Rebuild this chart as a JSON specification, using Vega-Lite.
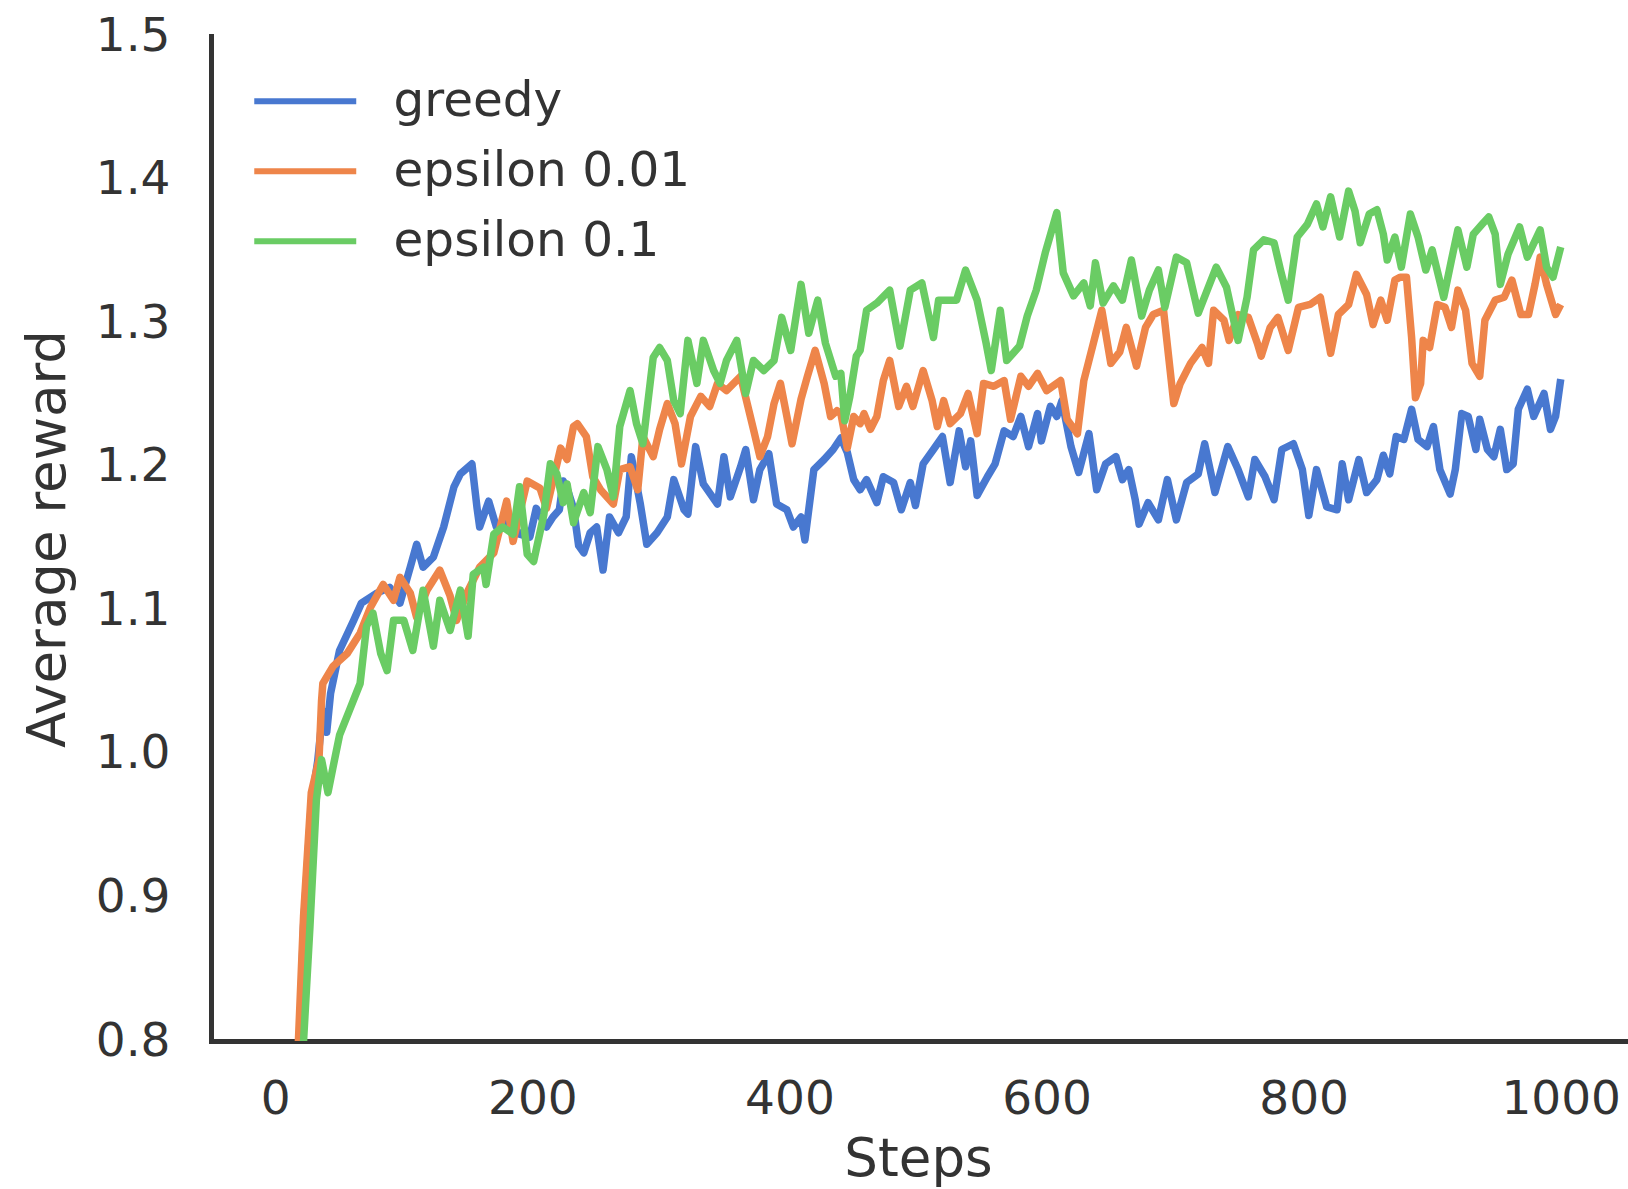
{
  "$schema": "https://vega.github.io/schema/vega-lite/v6.json",
  "width": 1414,
  "height": 1005,
  "autosize": {"type": "none"},
  "padding": {"left": 211, "top": 36, "right": 3, "bottom": 148},
  "background": "white",
  "config": {
    "view": {"stroke": null},
    "font": "DejaVu Sans",
    "axis": {
      "grid": false,
      "ticks": false,
      "tickSize": 0,
      "domainColor": "#333333",
      "domainWidth": 5,
      "domainCap": "square",
      "labelFont": "DejaVu Sans",
      "labelFontSize": 47,
      "labelColor": "#333333",
      "titleFont": "DejaVu Sans",
      "titleFontSize": 53,
      "titleFontWeight": "normal",
      "titleColor": "#333333"
    }
  },
  "datasets": {
    "rewards": [
      {"agent": "greedy", "step": 17, "reward": 0.75},
      {"agent": "greedy", "step": 22, "reward": 0.88},
      {"agent": "greedy", "step": 28, "reward": 0.965},
      {"agent": "greedy", "step": 33, "reward": 0.995},
      {"agent": "greedy", "step": 37, "reward": 1.03},
      {"agent": "greedy", "step": 40, "reward": 1.015},
      {"agent": "greedy", "step": 43, "reward": 1.042},
      {"agent": "greedy", "step": 50, "reward": 1.072},
      {"agent": "greedy", "step": 61, "reward": 1.093},
      {"agent": "greedy", "step": 67, "reward": 1.105},
      {"agent": "greedy", "step": 79, "reward": 1.112},
      {"agent": "greedy", "step": 89, "reward": 1.116},
      {"agent": "greedy", "step": 97, "reward": 1.105},
      {"agent": "greedy", "step": 105, "reward": 1.13},
      {"agent": "greedy", "step": 110, "reward": 1.146},
      {"agent": "greedy", "step": 115, "reward": 1.13},
      {"agent": "greedy", "step": 123, "reward": 1.137},
      {"agent": "greedy", "step": 131, "reward": 1.158},
      {"agent": "greedy", "step": 139, "reward": 1.186},
      {"agent": "greedy", "step": 144, "reward": 1.195},
      {"agent": "greedy", "step": 153, "reward": 1.202},
      {"agent": "greedy", "step": 157, "reward": 1.171},
      {"agent": "greedy", "step": 159, "reward": 1.158},
      {"agent": "greedy", "step": 166, "reward": 1.176},
      {"agent": "greedy", "step": 172, "reward": 1.158},
      {"agent": "greedy", "step": 183, "reward": 1.162},
      {"agent": "greedy", "step": 190, "reward": 1.153},
      {"agent": "greedy", "step": 198, "reward": 1.151},
      {"agent": "greedy", "step": 203, "reward": 1.171},
      {"agent": "greedy", "step": 211, "reward": 1.158},
      {"agent": "greedy", "step": 216, "reward": 1.165},
      {"agent": "greedy", "step": 221, "reward": 1.17},
      {"agent": "greedy", "step": 224, "reward": 1.19},
      {"agent": "greedy", "step": 227, "reward": 1.185},
      {"agent": "greedy", "step": 232, "reward": 1.171},
      {"agent": "greedy", "step": 236, "reward": 1.145},
      {"agent": "greedy", "step": 240, "reward": 1.14},
      {"agent": "greedy", "step": 245, "reward": 1.154},
      {"agent": "greedy", "step": 250, "reward": 1.158},
      {"agent": "greedy", "step": 255, "reward": 1.128},
      {"agent": "greedy", "step": 260, "reward": 1.165},
      {"agent": "greedy", "step": 267, "reward": 1.154},
      {"agent": "greedy", "step": 273, "reward": 1.165},
      {"agent": "greedy", "step": 277, "reward": 1.207},
      {"agent": "greedy", "step": 284, "reward": 1.174},
      {"agent": "greedy", "step": 289, "reward": 1.146},
      {"agent": "greedy", "step": 297, "reward": 1.154},
      {"agent": "greedy", "step": 305, "reward": 1.165},
      {"agent": "greedy", "step": 310, "reward": 1.191},
      {"agent": "greedy", "step": 318, "reward": 1.17},
      {"agent": "greedy", "step": 321, "reward": 1.167},
      {"agent": "greedy", "step": 327, "reward": 1.214},
      {"agent": "greedy", "step": 333, "reward": 1.188},
      {"agent": "greedy", "step": 344, "reward": 1.174},
      {"agent": "greedy", "step": 349, "reward": 1.207},
      {"agent": "greedy", "step": 354, "reward": 1.179},
      {"agent": "greedy", "step": 362, "reward": 1.2},
      {"agent": "greedy", "step": 366, "reward": 1.212},
      {"agent": "greedy", "step": 372, "reward": 1.177},
      {"agent": "greedy", "step": 377, "reward": 1.198},
      {"agent": "greedy", "step": 384, "reward": 1.209},
      {"agent": "greedy", "step": 390, "reward": 1.174},
      {"agent": "greedy", "step": 398, "reward": 1.17},
      {"agent": "greedy", "step": 403, "reward": 1.158},
      {"agent": "greedy", "step": 409, "reward": 1.165},
      {"agent": "greedy", "step": 412, "reward": 1.149},
      {"agent": "greedy", "step": 419, "reward": 1.198},
      {"agent": "greedy", "step": 427, "reward": 1.205},
      {"agent": "greedy", "step": 434, "reward": 1.212},
      {"agent": "greedy", "step": 440, "reward": 1.22},
      {"agent": "greedy", "step": 445, "reward": 1.21},
      {"agent": "greedy", "step": 450, "reward": 1.191},
      {"agent": "greedy", "step": 455, "reward": 1.184},
      {"agent": "greedy", "step": 460, "reward": 1.191},
      {"agent": "greedy", "step": 468, "reward": 1.175},
      {"agent": "greedy", "step": 473, "reward": 1.193},
      {"agent": "greedy", "step": 481, "reward": 1.189},
      {"agent": "greedy", "step": 487, "reward": 1.17},
      {"agent": "greedy", "step": 494, "reward": 1.189},
      {"agent": "greedy", "step": 498, "reward": 1.173},
      {"agent": "greedy", "step": 504, "reward": 1.202},
      {"agent": "greedy", "step": 512, "reward": 1.212},
      {"agent": "greedy", "step": 519, "reward": 1.221},
      {"agent": "greedy", "step": 525, "reward": 1.189},
      {"agent": "greedy", "step": 532, "reward": 1.225},
      {"agent": "greedy", "step": 537, "reward": 1.2},
      {"agent": "greedy", "step": 541, "reward": 1.218},
      {"agent": "greedy", "step": 546, "reward": 1.18},
      {"agent": "greedy", "step": 554, "reward": 1.193},
      {"agent": "greedy", "step": 560, "reward": 1.202},
      {"agent": "greedy", "step": 567, "reward": 1.225},
      {"agent": "greedy", "step": 574, "reward": 1.221},
      {"agent": "greedy", "step": 580, "reward": 1.235},
      {"agent": "greedy", "step": 586, "reward": 1.214},
      {"agent": "greedy", "step": 593, "reward": 1.237},
      {"agent": "greedy", "step": 596, "reward": 1.218},
      {"agent": "greedy", "step": 603, "reward": 1.242},
      {"agent": "greedy", "step": 608, "reward": 1.235},
      {"agent": "greedy", "step": 612, "reward": 1.246},
      {"agent": "greedy", "step": 619, "reward": 1.214},
      {"agent": "greedy", "step": 625, "reward": 1.196},
      {"agent": "greedy", "step": 633, "reward": 1.223},
      {"agent": "greedy", "step": 639, "reward": 1.184},
      {"agent": "greedy", "step": 646, "reward": 1.202},
      {"agent": "greedy", "step": 654, "reward": 1.207},
      {"agent": "greedy", "step": 659, "reward": 1.191},
      {"agent": "greedy", "step": 664, "reward": 1.198},
      {"agent": "greedy", "step": 669, "reward": 1.177},
      {"agent": "greedy", "step": 672, "reward": 1.16},
      {"agent": "greedy", "step": 679, "reward": 1.175},
      {"agent": "greedy", "step": 687, "reward": 1.163},
      {"agent": "greedy", "step": 694, "reward": 1.191},
      {"agent": "greedy", "step": 701, "reward": 1.163},
      {"agent": "greedy", "step": 709, "reward": 1.189},
      {"agent": "greedy", "step": 718, "reward": 1.195},
      {"agent": "greedy", "step": 723, "reward": 1.216},
      {"agent": "greedy", "step": 731, "reward": 1.182},
      {"agent": "greedy", "step": 741, "reward": 1.214},
      {"agent": "greedy", "step": 749, "reward": 1.198},
      {"agent": "greedy", "step": 757, "reward": 1.179},
      {"agent": "greedy", "step": 762, "reward": 1.205},
      {"agent": "greedy", "step": 770, "reward": 1.193},
      {"agent": "greedy", "step": 777, "reward": 1.177},
      {"agent": "greedy", "step": 783, "reward": 1.212},
      {"agent": "greedy", "step": 792, "reward": 1.216},
      {"agent": "greedy", "step": 799, "reward": 1.198},
      {"agent": "greedy", "step": 804, "reward": 1.166},
      {"agent": "greedy", "step": 810, "reward": 1.198},
      {"agent": "greedy", "step": 818, "reward": 1.172},
      {"agent": "greedy", "step": 826, "reward": 1.17},
      {"agent": "greedy", "step": 830, "reward": 1.202},
      {"agent": "greedy", "step": 835, "reward": 1.177},
      {"agent": "greedy", "step": 843, "reward": 1.205},
      {"agent": "greedy", "step": 849, "reward": 1.182},
      {"agent": "greedy", "step": 857, "reward": 1.191},
      {"agent": "greedy", "step": 862, "reward": 1.208},
      {"agent": "greedy", "step": 867, "reward": 1.195},
      {"agent": "greedy", "step": 872, "reward": 1.221},
      {"agent": "greedy", "step": 878, "reward": 1.219},
      {"agent": "greedy", "step": 884, "reward": 1.24},
      {"agent": "greedy", "step": 889, "reward": 1.219},
      {"agent": "greedy", "step": 896, "reward": 1.214},
      {"agent": "greedy", "step": 901, "reward": 1.228},
      {"agent": "greedy", "step": 906, "reward": 1.198},
      {"agent": "greedy", "step": 914, "reward": 1.181},
      {"agent": "greedy", "step": 918, "reward": 1.198},
      {"agent": "greedy", "step": 923, "reward": 1.237},
      {"agent": "greedy", "step": 928, "reward": 1.235},
      {"agent": "greedy", "step": 934, "reward": 1.212},
      {"agent": "greedy", "step": 937, "reward": 1.233},
      {"agent": "greedy", "step": 943, "reward": 1.212},
      {"agent": "greedy", "step": 948, "reward": 1.207},
      {"agent": "greedy", "step": 953, "reward": 1.226},
      {"agent": "greedy", "step": 958, "reward": 1.198},
      {"agent": "greedy", "step": 963, "reward": 1.202},
      {"agent": "greedy", "step": 967, "reward": 1.24},
      {"agent": "greedy", "step": 974, "reward": 1.254},
      {"agent": "greedy", "step": 979, "reward": 1.235},
      {"agent": "greedy", "step": 987, "reward": 1.251},
      {"agent": "greedy", "step": 992, "reward": 1.226},
      {"agent": "greedy", "step": 996, "reward": 1.235},
      {"agent": "greedy", "step": 1000, "reward": 1.261},

      {"agent": "epsilon 0.01", "step": 16, "reward": 0.75},
      {"agent": "epsilon 0.01", "step": 18, "reward": 0.8},
      {"agent": "epsilon 0.01", "step": 22, "reward": 0.887},
      {"agent": "epsilon 0.01", "step": 28, "reward": 0.973},
      {"agent": "epsilon 0.01", "step": 34, "reward": 0.996},
      {"agent": "epsilon 0.01", "step": 36, "reward": 1.037},
      {"agent": "epsilon 0.01", "step": 37, "reward": 1.049},
      {"agent": "epsilon 0.01", "step": 45, "reward": 1.061},
      {"agent": "epsilon 0.01", "step": 56, "reward": 1.07},
      {"agent": "epsilon 0.01", "step": 66, "reward": 1.084},
      {"agent": "epsilon 0.01", "step": 74, "reward": 1.102},
      {"agent": "epsilon 0.01", "step": 84, "reward": 1.118},
      {"agent": "epsilon 0.01", "step": 92, "reward": 1.107},
      {"agent": "epsilon 0.01", "step": 97, "reward": 1.123},
      {"agent": "epsilon 0.01", "step": 105, "reward": 1.112},
      {"agent": "epsilon 0.01", "step": 110, "reward": 1.095},
      {"agent": "epsilon 0.01", "step": 118, "reward": 1.114},
      {"agent": "epsilon 0.01", "step": 128, "reward": 1.128},
      {"agent": "epsilon 0.01", "step": 136, "reward": 1.11},
      {"agent": "epsilon 0.01", "step": 141, "reward": 1.093},
      {"agent": "epsilon 0.01", "step": 149, "reward": 1.112},
      {"agent": "epsilon 0.01", "step": 159, "reward": 1.13},
      {"agent": "epsilon 0.01", "step": 170, "reward": 1.14},
      {"agent": "epsilon 0.01", "step": 180, "reward": 1.176},
      {"agent": "epsilon 0.01", "step": 185, "reward": 1.148},
      {"agent": "epsilon 0.01", "step": 196, "reward": 1.19},
      {"agent": "epsilon 0.01", "step": 206, "reward": 1.185},
      {"agent": "epsilon 0.01", "step": 211, "reward": 1.171},
      {"agent": "epsilon 0.01", "step": 222, "reward": 1.213},
      {"agent": "epsilon 0.01", "step": 227, "reward": 1.205},
      {"agent": "epsilon 0.01", "step": 232, "reward": 1.228},
      {"agent": "epsilon 0.01", "step": 235, "reward": 1.23},
      {"agent": "epsilon 0.01", "step": 242, "reward": 1.221},
      {"agent": "epsilon 0.01", "step": 247, "reward": 1.193},
      {"agent": "epsilon 0.01", "step": 253, "reward": 1.184},
      {"agent": "epsilon 0.01", "step": 263, "reward": 1.174},
      {"agent": "epsilon 0.01", "step": 268, "reward": 1.198},
      {"agent": "epsilon 0.01", "step": 276, "reward": 1.2},
      {"agent": "epsilon 0.01", "step": 282, "reward": 1.184},
      {"agent": "epsilon 0.01", "step": 286, "reward": 1.221},
      {"agent": "epsilon 0.01", "step": 294, "reward": 1.207},
      {"agent": "epsilon 0.01", "step": 299, "reward": 1.226},
      {"agent": "epsilon 0.01", "step": 305, "reward": 1.244},
      {"agent": "epsilon 0.01", "step": 311, "reward": 1.23},
      {"agent": "epsilon 0.01", "step": 316, "reward": 1.202},
      {"agent": "epsilon 0.01", "step": 323, "reward": 1.235},
      {"agent": "epsilon 0.01", "step": 331, "reward": 1.249},
      {"agent": "epsilon 0.01", "step": 338, "reward": 1.242},
      {"agent": "epsilon 0.01", "step": 344, "reward": 1.258},
      {"agent": "epsilon 0.01", "step": 351, "reward": 1.253},
      {"agent": "epsilon 0.01", "step": 362, "reward": 1.263},
      {"agent": "epsilon 0.01", "step": 372, "reward": 1.226},
      {"agent": "epsilon 0.01", "step": 377, "reward": 1.207},
      {"agent": "epsilon 0.01", "step": 383, "reward": 1.221},
      {"agent": "epsilon 0.01", "step": 388, "reward": 1.244},
      {"agent": "epsilon 0.01", "step": 393, "reward": 1.258},
      {"agent": "epsilon 0.01", "step": 398, "reward": 1.235},
      {"agent": "epsilon 0.01", "step": 402, "reward": 1.216},
      {"agent": "epsilon 0.01", "step": 409, "reward": 1.247},
      {"agent": "epsilon 0.01", "step": 414, "reward": 1.263},
      {"agent": "epsilon 0.01", "step": 420, "reward": 1.281},
      {"agent": "epsilon 0.01", "step": 427, "reward": 1.258},
      {"agent": "epsilon 0.01", "step": 432, "reward": 1.235},
      {"agent": "epsilon 0.01", "step": 437, "reward": 1.239},
      {"agent": "epsilon 0.01", "step": 440, "reward": 1.237},
      {"agent": "epsilon 0.01", "step": 445, "reward": 1.213},
      {"agent": "epsilon 0.01", "step": 450, "reward": 1.235},
      {"agent": "epsilon 0.01", "step": 455, "reward": 1.23},
      {"agent": "epsilon 0.01", "step": 458, "reward": 1.237},
      {"agent": "epsilon 0.01", "step": 463, "reward": 1.226},
      {"agent": "epsilon 0.01", "step": 468, "reward": 1.235},
      {"agent": "epsilon 0.01", "step": 473, "reward": 1.26},
      {"agent": "epsilon 0.01", "step": 478, "reward": 1.274},
      {"agent": "epsilon 0.01", "step": 485, "reward": 1.242},
      {"agent": "epsilon 0.01", "step": 491, "reward": 1.256},
      {"agent": "epsilon 0.01", "step": 496, "reward": 1.242},
      {"agent": "epsilon 0.01", "step": 504, "reward": 1.267},
      {"agent": "epsilon 0.01", "step": 511, "reward": 1.246},
      {"agent": "epsilon 0.01", "step": 515, "reward": 1.228},
      {"agent": "epsilon 0.01", "step": 520, "reward": 1.246},
      {"agent": "epsilon 0.01", "step": 525, "reward": 1.23},
      {"agent": "epsilon 0.01", "step": 533, "reward": 1.237},
      {"agent": "epsilon 0.01", "step": 539, "reward": 1.251},
      {"agent": "epsilon 0.01", "step": 546, "reward": 1.223},
      {"agent": "epsilon 0.01", "step": 551, "reward": 1.258},
      {"agent": "epsilon 0.01", "step": 559, "reward": 1.256},
      {"agent": "epsilon 0.01", "step": 567, "reward": 1.26},
      {"agent": "epsilon 0.01", "step": 572, "reward": 1.233},
      {"agent": "epsilon 0.01", "step": 580, "reward": 1.263},
      {"agent": "epsilon 0.01", "step": 586, "reward": 1.256},
      {"agent": "epsilon 0.01", "step": 593, "reward": 1.265},
      {"agent": "epsilon 0.01", "step": 600, "reward": 1.253},
      {"agent": "epsilon 0.01", "step": 611, "reward": 1.26},
      {"agent": "epsilon 0.01", "step": 616, "reward": 1.233},
      {"agent": "epsilon 0.01", "step": 624, "reward": 1.223},
      {"agent": "epsilon 0.01", "step": 629, "reward": 1.26},
      {"agent": "epsilon 0.01", "step": 637, "reward": 1.288},
      {"agent": "epsilon 0.01", "step": 643, "reward": 1.309},
      {"agent": "epsilon 0.01", "step": 650, "reward": 1.272},
      {"agent": "epsilon 0.01", "step": 657, "reward": 1.28},
      {"agent": "epsilon 0.01", "step": 662, "reward": 1.297},
      {"agent": "epsilon 0.01", "step": 670, "reward": 1.27},
      {"agent": "epsilon 0.01", "step": 677, "reward": 1.297},
      {"agent": "epsilon 0.01", "step": 683, "reward": 1.306},
      {"agent": "epsilon 0.01", "step": 691, "reward": 1.309},
      {"agent": "epsilon 0.01", "step": 699, "reward": 1.244},
      {"agent": "epsilon 0.01", "step": 704, "reward": 1.258},
      {"agent": "epsilon 0.01", "step": 712, "reward": 1.272},
      {"agent": "epsilon 0.01", "step": 721, "reward": 1.283},
      {"agent": "epsilon 0.01", "step": 726, "reward": 1.272},
      {"agent": "epsilon 0.01", "step": 730, "reward": 1.309},
      {"agent": "epsilon 0.01", "step": 738, "reward": 1.302},
      {"agent": "epsilon 0.01", "step": 742, "reward": 1.288},
      {"agent": "epsilon 0.01", "step": 749, "reward": 1.306},
      {"agent": "epsilon 0.01", "step": 757, "reward": 1.304},
      {"agent": "epsilon 0.01", "step": 764, "reward": 1.286},
      {"agent": "epsilon 0.01", "step": 767, "reward": 1.277},
      {"agent": "epsilon 0.01", "step": 774, "reward": 1.297},
      {"agent": "epsilon 0.01", "step": 780, "reward": 1.304},
      {"agent": "epsilon 0.01", "step": 788, "reward": 1.281},
      {"agent": "epsilon 0.01", "step": 796, "reward": 1.311},
      {"agent": "epsilon 0.01", "step": 805, "reward": 1.313},
      {"agent": "epsilon 0.01", "step": 813, "reward": 1.318},
      {"agent": "epsilon 0.01", "step": 821, "reward": 1.279},
      {"agent": "epsilon 0.01", "step": 827, "reward": 1.306},
      {"agent": "epsilon 0.01", "step": 835, "reward": 1.313},
      {"agent": "epsilon 0.01", "step": 841, "reward": 1.334},
      {"agent": "epsilon 0.01", "step": 849, "reward": 1.32},
      {"agent": "epsilon 0.01", "step": 854, "reward": 1.299},
      {"agent": "epsilon 0.01", "step": 860, "reward": 1.316},
      {"agent": "epsilon 0.01", "step": 865, "reward": 1.302},
      {"agent": "epsilon 0.01", "step": 871, "reward": 1.33},
      {"agent": "epsilon 0.01", "step": 875, "reward": 1.332},
      {"agent": "epsilon 0.01", "step": 880, "reward": 1.332},
      {"agent": "epsilon 0.01", "step": 884, "reward": 1.29},
      {"agent": "epsilon 0.01", "step": 887, "reward": 1.248},
      {"agent": "epsilon 0.01", "step": 891, "reward": 1.258},
      {"agent": "epsilon 0.01", "step": 893, "reward": 1.288},
      {"agent": "epsilon 0.01", "step": 898, "reward": 1.283},
      {"agent": "epsilon 0.01", "step": 904, "reward": 1.313},
      {"agent": "epsilon 0.01", "step": 910, "reward": 1.311},
      {"agent": "epsilon 0.01", "step": 915, "reward": 1.297},
      {"agent": "epsilon 0.01", "step": 920, "reward": 1.323},
      {"agent": "epsilon 0.01", "step": 926, "reward": 1.309},
      {"agent": "epsilon 0.01", "step": 931, "reward": 1.272},
      {"agent": "epsilon 0.01", "step": 937, "reward": 1.263},
      {"agent": "epsilon 0.01", "step": 941, "reward": 1.302},
      {"agent": "epsilon 0.01", "step": 949, "reward": 1.316},
      {"agent": "epsilon 0.01", "step": 956, "reward": 1.318},
      {"agent": "epsilon 0.01", "step": 962, "reward": 1.33},
      {"agent": "epsilon 0.01", "step": 969, "reward": 1.306},
      {"agent": "epsilon 0.01", "step": 975, "reward": 1.306},
      {"agent": "epsilon 0.01", "step": 980, "reward": 1.327},
      {"agent": "epsilon 0.01", "step": 984, "reward": 1.346},
      {"agent": "epsilon 0.01", "step": 989, "reward": 1.327},
      {"agent": "epsilon 0.01", "step": 996, "reward": 1.306},
      {"agent": "epsilon 0.01", "step": 1000, "reward": 1.313},

      {"agent": "epsilon 0.1", "step": 20, "reward": 0.75},
      {"agent": "epsilon 0.1", "step": 22, "reward": 0.8},
      {"agent": "epsilon 0.1", "step": 27, "reward": 0.88},
      {"agent": "epsilon 0.1", "step": 32, "reward": 0.968},
      {"agent": "epsilon 0.1", "step": 36, "reward": 0.996},
      {"agent": "epsilon 0.1", "step": 41, "reward": 0.973},
      {"agent": "epsilon 0.1", "step": 45, "reward": 0.991},
      {"agent": "epsilon 0.1", "step": 50, "reward": 1.013},
      {"agent": "epsilon 0.1", "step": 58, "reward": 1.031},
      {"agent": "epsilon 0.1", "step": 66, "reward": 1.049},
      {"agent": "epsilon 0.1", "step": 71, "reward": 1.089},
      {"agent": "epsilon 0.1", "step": 76, "reward": 1.098},
      {"agent": "epsilon 0.1", "step": 82, "reward": 1.07},
      {"agent": "epsilon 0.1", "step": 87, "reward": 1.058},
      {"agent": "epsilon 0.1", "step": 92, "reward": 1.093},
      {"agent": "epsilon 0.1", "step": 100, "reward": 1.093},
      {"agent": "epsilon 0.1", "step": 107, "reward": 1.072},
      {"agent": "epsilon 0.1", "step": 115, "reward": 1.114},
      {"agent": "epsilon 0.1", "step": 123, "reward": 1.075},
      {"agent": "epsilon 0.1", "step": 128, "reward": 1.107},
      {"agent": "epsilon 0.1", "step": 136, "reward": 1.086},
      {"agent": "epsilon 0.1", "step": 144, "reward": 1.114},
      {"agent": "epsilon 0.1", "step": 150, "reward": 1.082},
      {"agent": "epsilon 0.1", "step": 154, "reward": 1.125},
      {"agent": "epsilon 0.1", "step": 162, "reward": 1.13},
      {"agent": "epsilon 0.1", "step": 164, "reward": 1.118},
      {"agent": "epsilon 0.1", "step": 170, "reward": 1.153},
      {"agent": "epsilon 0.1", "step": 177, "reward": 1.158},
      {"agent": "epsilon 0.1", "step": 185, "reward": 1.153},
      {"agent": "epsilon 0.1", "step": 190, "reward": 1.186},
      {"agent": "epsilon 0.1", "step": 196, "reward": 1.139},
      {"agent": "epsilon 0.1", "step": 201, "reward": 1.134},
      {"agent": "epsilon 0.1", "step": 209, "reward": 1.167},
      {"agent": "epsilon 0.1", "step": 214, "reward": 1.202},
      {"agent": "epsilon 0.1", "step": 219, "reward": 1.195},
      {"agent": "epsilon 0.1", "step": 224, "reward": 1.175},
      {"agent": "epsilon 0.1", "step": 227, "reward": 1.188},
      {"agent": "epsilon 0.1", "step": 232, "reward": 1.161},
      {"agent": "epsilon 0.1", "step": 240, "reward": 1.182},
      {"agent": "epsilon 0.1", "step": 245, "reward": 1.168},
      {"agent": "epsilon 0.1", "step": 251, "reward": 1.214},
      {"agent": "epsilon 0.1", "step": 258, "reward": 1.198},
      {"agent": "epsilon 0.1", "step": 263, "reward": 1.179},
      {"agent": "epsilon 0.1", "step": 268, "reward": 1.228},
      {"agent": "epsilon 0.1", "step": 276, "reward": 1.253},
      {"agent": "epsilon 0.1", "step": 281, "reward": 1.23},
      {"agent": "epsilon 0.1", "step": 286, "reward": 1.216},
      {"agent": "epsilon 0.1", "step": 294, "reward": 1.276},
      {"agent": "epsilon 0.1", "step": 299, "reward": 1.283},
      {"agent": "epsilon 0.1", "step": 305, "reward": 1.274},
      {"agent": "epsilon 0.1", "step": 310, "reward": 1.246},
      {"agent": "epsilon 0.1", "step": 315, "reward": 1.237},
      {"agent": "epsilon 0.1", "step": 321, "reward": 1.288},
      {"agent": "epsilon 0.1", "step": 328, "reward": 1.258},
      {"agent": "epsilon 0.1", "step": 333, "reward": 1.288},
      {"agent": "epsilon 0.1", "step": 341, "reward": 1.267},
      {"agent": "epsilon 0.1", "step": 346, "reward": 1.258},
      {"agent": "epsilon 0.1", "step": 351, "reward": 1.274},
      {"agent": "epsilon 0.1", "step": 359, "reward": 1.288},
      {"agent": "epsilon 0.1", "step": 366, "reward": 1.251},
      {"agent": "epsilon 0.1", "step": 372, "reward": 1.274},
      {"agent": "epsilon 0.1", "step": 380, "reward": 1.267},
      {"agent": "epsilon 0.1", "step": 388, "reward": 1.274},
      {"agent": "epsilon 0.1", "step": 394, "reward": 1.304},
      {"agent": "epsilon 0.1", "step": 401, "reward": 1.281},
      {"agent": "epsilon 0.1", "step": 409, "reward": 1.327},
      {"agent": "epsilon 0.1", "step": 415, "reward": 1.293},
      {"agent": "epsilon 0.1", "step": 422, "reward": 1.316},
      {"agent": "epsilon 0.1", "step": 428, "reward": 1.286},
      {"agent": "epsilon 0.1", "step": 436, "reward": 1.263},
      {"agent": "epsilon 0.1", "step": 440, "reward": 1.265},
      {"agent": "epsilon 0.1", "step": 443, "reward": 1.232},
      {"agent": "epsilon 0.1", "step": 447, "reward": 1.249},
      {"agent": "epsilon 0.1", "step": 452, "reward": 1.277},
      {"agent": "epsilon 0.1", "step": 455, "reward": 1.281},
      {"agent": "epsilon 0.1", "step": 460, "reward": 1.309},
      {"agent": "epsilon 0.1", "step": 468, "reward": 1.314},
      {"agent": "epsilon 0.1", "step": 478, "reward": 1.323},
      {"agent": "epsilon 0.1", "step": 486, "reward": 1.284},
      {"agent": "epsilon 0.1", "step": 494, "reward": 1.323},
      {"agent": "epsilon 0.1", "step": 503, "reward": 1.328},
      {"agent": "epsilon 0.1", "step": 512, "reward": 1.29},
      {"agent": "epsilon 0.1", "step": 516, "reward": 1.316},
      {"agent": "epsilon 0.1", "step": 522, "reward": 1.316},
      {"agent": "epsilon 0.1", "step": 530, "reward": 1.316},
      {"agent": "epsilon 0.1", "step": 537, "reward": 1.337},
      {"agent": "epsilon 0.1", "step": 546, "reward": 1.316},
      {"agent": "epsilon 0.1", "step": 553, "reward": 1.286},
      {"agent": "epsilon 0.1", "step": 557, "reward": 1.267},
      {"agent": "epsilon 0.1", "step": 564, "reward": 1.309},
      {"agent": "epsilon 0.1", "step": 569, "reward": 1.274},
      {"agent": "epsilon 0.1", "step": 579, "reward": 1.284},
      {"agent": "epsilon 0.1", "step": 585, "reward": 1.305},
      {"agent": "epsilon 0.1", "step": 592, "reward": 1.323},
      {"agent": "epsilon 0.1", "step": 599, "reward": 1.349},
      {"agent": "epsilon 0.1", "step": 608, "reward": 1.377},
      {"agent": "epsilon 0.1", "step": 613, "reward": 1.335},
      {"agent": "epsilon 0.1", "step": 621, "reward": 1.319},
      {"agent": "epsilon 0.1", "step": 629, "reward": 1.328},
      {"agent": "epsilon 0.1", "step": 634, "reward": 1.312},
      {"agent": "epsilon 0.1", "step": 638, "reward": 1.342},
      {"agent": "epsilon 0.1", "step": 644, "reward": 1.314},
      {"agent": "epsilon 0.1", "step": 652, "reward": 1.326},
      {"agent": "epsilon 0.1", "step": 659, "reward": 1.316},
      {"agent": "epsilon 0.1", "step": 666, "reward": 1.344},
      {"agent": "epsilon 0.1", "step": 674, "reward": 1.305},
      {"agent": "epsilon 0.1", "step": 680, "reward": 1.323},
      {"agent": "epsilon 0.1", "step": 687, "reward": 1.337},
      {"agent": "epsilon 0.1", "step": 692, "reward": 1.311},
      {"agent": "epsilon 0.1", "step": 701, "reward": 1.346},
      {"agent": "epsilon 0.1", "step": 709, "reward": 1.342},
      {"agent": "epsilon 0.1", "step": 718, "reward": 1.307},
      {"agent": "epsilon 0.1", "step": 725, "reward": 1.323},
      {"agent": "epsilon 0.1", "step": 732, "reward": 1.339},
      {"agent": "epsilon 0.1", "step": 740, "reward": 1.325},
      {"agent": "epsilon 0.1", "step": 749, "reward": 1.288},
      {"agent": "epsilon 0.1", "step": 756, "reward": 1.318},
      {"agent": "epsilon 0.1", "step": 761, "reward": 1.351},
      {"agent": "epsilon 0.1", "step": 769, "reward": 1.358},
      {"agent": "epsilon 0.1", "step": 777, "reward": 1.356},
      {"agent": "epsilon 0.1", "step": 782, "reward": 1.337},
      {"agent": "epsilon 0.1", "step": 788, "reward": 1.316},
      {"agent": "epsilon 0.1", "step": 795, "reward": 1.36},
      {"agent": "epsilon 0.1", "step": 803, "reward": 1.369},
      {"agent": "epsilon 0.1", "step": 810, "reward": 1.383},
      {"agent": "epsilon 0.1", "step": 815, "reward": 1.367},
      {"agent": "epsilon 0.1", "step": 821, "reward": 1.388},
      {"agent": "epsilon 0.1", "step": 828, "reward": 1.36},
      {"agent": "epsilon 0.1", "step": 835, "reward": 1.392},
      {"agent": "epsilon 0.1", "step": 840, "reward": 1.378},
      {"agent": "epsilon 0.1", "step": 844, "reward": 1.356},
      {"agent": "epsilon 0.1", "step": 851, "reward": 1.376},
      {"agent": "epsilon 0.1", "step": 857, "reward": 1.379},
      {"agent": "epsilon 0.1", "step": 862, "reward": 1.362},
      {"agent": "epsilon 0.1", "step": 865, "reward": 1.344},
      {"agent": "epsilon 0.1", "step": 871, "reward": 1.36},
      {"agent": "epsilon 0.1", "step": 876, "reward": 1.339},
      {"agent": "epsilon 0.1", "step": 883, "reward": 1.376},
      {"agent": "epsilon 0.1", "step": 889, "reward": 1.36},
      {"agent": "epsilon 0.1", "step": 895, "reward": 1.337},
      {"agent": "epsilon 0.1", "step": 900, "reward": 1.351},
      {"agent": "epsilon 0.1", "step": 909, "reward": 1.318},
      {"agent": "epsilon 0.1", "step": 915, "reward": 1.344},
      {"agent": "epsilon 0.1", "step": 920, "reward": 1.365},
      {"agent": "epsilon 0.1", "step": 927, "reward": 1.339},
      {"agent": "epsilon 0.1", "step": 932, "reward": 1.362},
      {"agent": "epsilon 0.1", "step": 939, "reward": 1.369},
      {"agent": "epsilon 0.1", "step": 944, "reward": 1.374},
      {"agent": "epsilon 0.1", "step": 949, "reward": 1.362},
      {"agent": "epsilon 0.1", "step": 953, "reward": 1.327},
      {"agent": "epsilon 0.1", "step": 959, "reward": 1.348},
      {"agent": "epsilon 0.1", "step": 968, "reward": 1.367},
      {"agent": "epsilon 0.1", "step": 974, "reward": 1.346},
      {"agent": "epsilon 0.1", "step": 984, "reward": 1.365},
      {"agent": "epsilon 0.1", "step": 989, "reward": 1.339},
      {"agent": "epsilon 0.1", "step": 994, "reward": 1.332},
      {"agent": "epsilon 0.1", "step": 1000, "reward": 1.353}
    ]
  },
  "data": {"name": "rewards"},
  "mark": {
    "type": "line",
    "clip": true,
    "strokeWidth": 7.5,
    "strokeJoin": "round"
  },
  "encoding": {
    "x": {
      "field": "step",
      "type": "quantitative",
      "title": "Steps",
      "scale": {"domain": [-50, 1050], "nice": false, "zero": false},
      "axis": {
        "values": [0, 200, 400, 600, 800, 1000],
        "format": "d",
        "labelPadding": 35,
        "titlePadding": 11
      }
    },
    "y": {
      "field": "reward",
      "type": "quantitative",
      "title": "Average reward",
      "scale": {"domain": [0.8, 1.5], "nice": false, "zero": false},
      "axis": {
        "values": [0.8, 0.9, 1.0, 1.1, 1.2, 1.3, 1.4, 1.5],
        "format": ".1f",
        "labelPadding": 41,
        "titlePadding": 20
      }
    },
    "color": {
      "field": "agent",
      "type": "nominal",
      "scale": {
        "domain": ["greedy", "epsilon 0.01", "epsilon 0.1"],
        "range": ["#4878d0", "#ee854a", "#6acc64"]
      },
      "legend": {
        "title": null,
        "orient": "none",
        "legendX": 70,
        "legendY": 41,
        "symbolType": "M-4,0H4",
        "symbolSize": 650,
        "symbolStrokeWidth": 6,
        "symbolFillColor": "transparent",
        "labelFont": "DejaVu Sans",
        "labelFontSize": 48.5,
        "labelColor": "#333333",
        "labelLimit": 500,
        "labelOffset": 64,
        "labelBaseline": "middle",
        "rowPadding": 21,
        "padding": 0
      }
    },
    "order": {"field": "step", "type": "quantitative"}
  }
}
